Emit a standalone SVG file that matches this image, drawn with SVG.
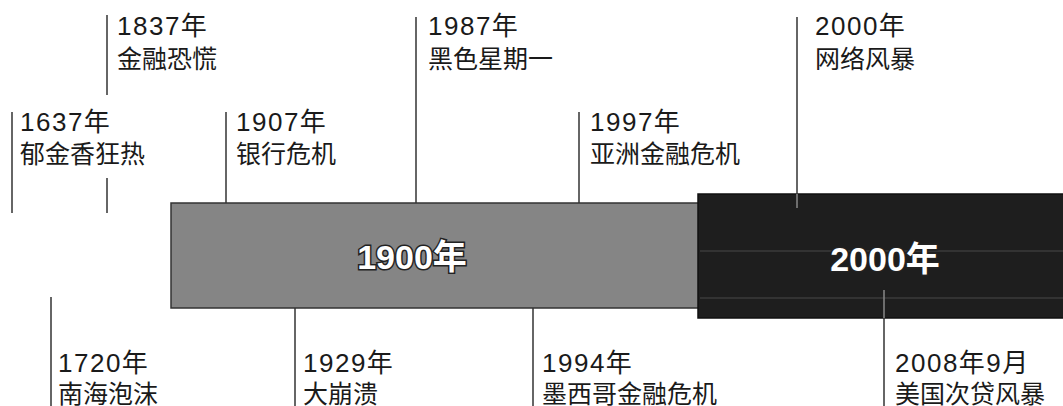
<svg xmlns="http://www.w3.org/2000/svg" width="1063" height="406" viewBox="0 0 1063 406">
<style>
.t{font-family:"Liberation Sans","Noto Sans CJK SC",sans-serif;font-size:26px;fill:#1a1a1a;}
.y{letter-spacing:1.5px;}
.c{font-family:"Noto Sans CJK SC",sans-serif;font-size:25px;fill:#1a1a1a;}
.ln{stroke:#333;stroke-width:1.5;fill:none;}
.bl{font-family:"Liberation Sans","Noto Sans CJK SC",sans-serif;font-weight:bold;font-size:34px;fill:#fff;stroke:#222;stroke-width:3;paint-order:stroke;text-anchor:middle;}
</style>
<g id="bar-1900">
<rect x="171" y="203" width="540" height="105" fill="#858585" stroke="#333" stroke-width="1.5"/>
<text class="bl" x="412" y="269">1900年</text>
</g>
<g id="bar-2000">
<rect x="698" y="194" width="370" height="124" fill="#1e1e1e" stroke="#111" stroke-width="1.5"/>
<line x1="700" y1="251" x2="1063" y2="251" stroke="#666" stroke-width="1" opacity="0.6"/>
<line x1="700" y1="298" x2="1063" y2="298" stroke="#666" stroke-width="1" opacity="0.6"/>
<text class="bl" x="885" y="271">2000年</text>
</g>
<g id="connectors">
<line class="ln" x1="12" y1="112" x2="12" y2="213"/>
<line class="ln" x1="107" y1="15" x2="107" y2="95"/>
<line class="ln" x1="107" y1="178" x2="107" y2="213"/>
<line class="ln" x1="226" y1="112" x2="226" y2="203"/>
<line class="ln" x1="416" y1="17" x2="416" y2="203"/>
<line class="ln" x1="579" y1="112" x2="579" y2="203"/>
<line class="ln" x1="797" y1="17" x2="797" y2="194"/>
<line x1="797" y1="194" x2="797" y2="208" stroke="#888" stroke-width="1.5"/>
<line class="ln" x1="51" y1="297" x2="51" y2="406"/>
<line class="ln" x1="295" y1="308" x2="295" y2="406"/>
<line class="ln" x1="533" y1="308" x2="533" y2="406"/>
<line x1="884" y1="290" x2="884" y2="318" stroke="#888" stroke-width="1.5"/>
<line class="ln" x1="884" y1="318" x2="884" y2="406"/>
</g>
<g id="e1637"><text class="t y" x="20" y="131">1637年</text><text class="c" x="20" y="163">郁金香狂热</text></g>
<g id="e1837"><text class="t y" x="117" y="35">1837年</text><text class="c" x="117" y="68">金融恐慌</text></g>
<g id="e1907"><text class="t y" x="236" y="131">1907年</text><text class="c" x="236" y="163">银行危机</text></g>
<g id="e1987"><text class="t y" x="428" y="35">1987年</text><text class="c" x="428" y="68">黑色星期一</text></g>
<g id="e1997"><text class="t y" x="590" y="131">1997年</text><text class="c" x="590" y="163">亚洲金融危机</text></g>
<g id="e2000"><text class="t y" x="815" y="35">2000年</text><text class="c" x="815" y="68">网络风暴</text></g>
<g id="e1720"><text class="t y" x="58" y="372">1720年</text><text class="c" x="58" y="403">南海泡沫</text></g>
<g id="e1929"><text class="t y" x="303" y="372">1929年</text><text class="c" x="303" y="403">大崩溃</text></g>
<g id="e1994"><text class="t y" x="542" y="372">1994年</text><text class="c" x="542" y="403">墨西哥金融危机</text></g>
<g id="e2008"><text class="t y" x="895" y="372">2008年9月</text><text class="c" x="895" y="403">美国次贷风暴</text></g>
</svg>
